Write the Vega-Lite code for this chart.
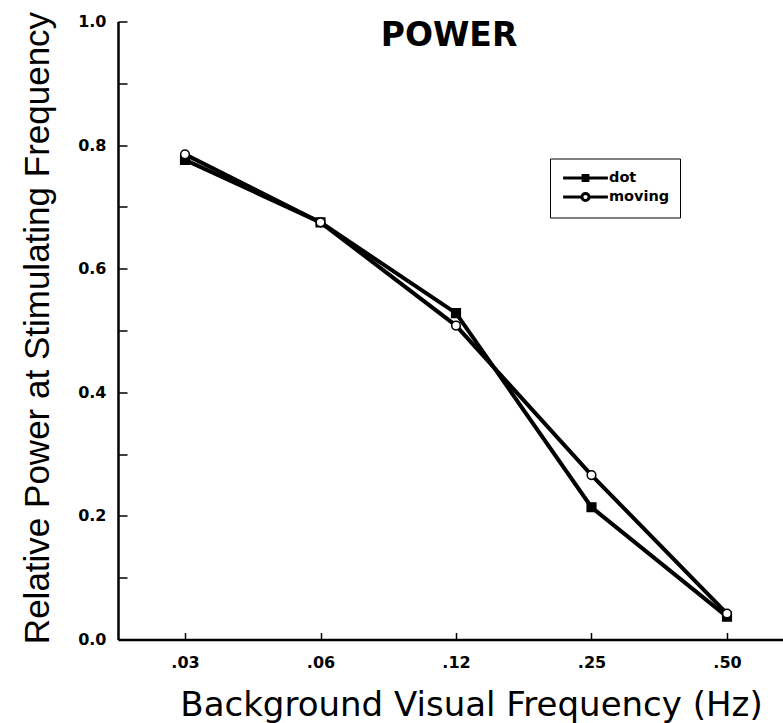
{
  "$schema": "https://vega.github.io/schema/vega-lite/v6.json",
  "autosize": "none",
  "padding": {"left": 118, "top": 21.5, "right": 0, "bottom": 83},
  "width": 676,
  "height": 618,
  "background": "white",
  "title": {
    "text": "POWER",
    "font": "DejaVu Sans",
    "fontSize": 33,
    "fontWeight": "bold",
    "color": "black",
    "anchor": "middle",
    "orient": "top",
    "offset": -42,
    "dx": -7
  },
  "data": {
    "values": [
      {"freq": ".03", "series": "dot", "power": 0.776},
      {"freq": ".06", "series": "dot", "power": 0.675},
      {"freq": ".12", "series": "dot", "power": 0.528},
      {"freq": ".25", "series": "dot", "power": 0.214},
      {"freq": ".50", "series": "dot", "power": 0.037},
      {"freq": ".03", "series": "moving", "power": 0.785},
      {"freq": ".06", "series": "moving", "power": 0.675},
      {"freq": ".12", "series": "moving", "power": 0.508},
      {"freq": ".25", "series": "moving", "power": 0.266},
      {"freq": ".50", "series": "moving", "power": 0.042}
    ]
  },
  "encoding": {
    "x": {
      "field": "freq",
      "type": "ordinal",
      "sort": [".03", ".06", ".12", ".25", ".50"],
      "scale": {"type": "point", "padding": 0.4945},
      "axis": {
        "title": "Background Visual Frequency (Hz)",
        "titleFont": "DejaVu Sans",
        "titleFontSize": 34,
        "titleFontWeight": "normal",
        "titleColor": "black",
        "titleX": 353,
        "titleY": 76,
        "titleBaseline": "alphabetic",
        "titleAlign": "center",
        "labelAngle": 0,
        "labelFont": "DejaVu Sans",
        "labelFontSize": 16,
        "labelFontWeight": "bold",
        "labelColor": "black",
        "labelPadding": 22,
        "tickSize": -7,
        "tickWidth": 1.5,
        "tickColor": "black",
        "domainColor": "black",
        "domainWidth": 2.5,
        "grid": false
      }
    },
    "y": {
      "field": "power",
      "type": "quantitative",
      "scale": {"domain": [0, 1], "nice": false, "zero": true},
      "axis": {
        "title": "Relative Power at Stimulating Frequency",
        "titleFont": "Liberation Sans",
        "titleFontSize": 35,
        "titleFontWeight": "normal",
        "titleColor": "black",
        "titleX": -81,
        "titleY": 306,
        "titleBaseline": "middle",
        "titleAlign": "center",
        "titleAngle": -90,
        "values": [0, 0.1, 0.2, 0.3, 0.4, 0.5, 0.6, 0.7, 0.8, 0.9, 1.0],
        "labelExpr": "round(datum.value * 10) % 2 == 0 ? format(datum.value, '.1f') : ''",
        "labelFont": "DejaVu Sans",
        "labelFontSize": 16,
        "labelFontWeight": "bold",
        "labelColor": "black",
        "labelPadding": 21,
        "tickSize": -9,
        "tickWidth": 1.5,
        "tickColor": "black",
        "domainColor": "black",
        "domainWidth": 2.5,
        "grid": false
      }
    }
  },
  "layer": [
    {
      "mark": {"type": "line", "color": "black", "strokeWidth": 4},
      "encoding": {"detail": {"field": "series"}}
    },
    {
      "mark": {"type": "point", "filled": false, "stroke": "black", "strokeWidth": 1.5, "size": 75, "opacity": 1},
      "encoding": {
        "shape": {
          "field": "series",
          "type": "nominal",
          "scale": {"domain": ["dot", "moving"], "range": ["square", "circle"]},
          "legend": null
        },
        "fill": {
          "field": "series",
          "type": "nominal",
          "scale": {"domain": ["dot", "moving"], "range": ["black", "white"]},
          "legend": null
        }
      }
    },
    {
      "mark": {"type": "point", "filled": false, "stroke": "black", "size": 256, "opacity": 0},
      "encoding": {
        "shape": {
          "field": "series",
          "type": "nominal",
          "scale": {
            "domain": ["dot", "moving"],
            "range": [
              "M-0.8,0H4.8M1.7,-0.3H2.3V0.3H1.7Z",
              "M-0.8,0H1.55M2.45,0H4.8M1.55,0A0.45,0.45 0 1,1 2.45,0A0.45,0.45 0 1,1 1.55,0Z"
            ]
          },
          "legend": {
            "title": null,
            "orient": "none",
            "legendX": 432,
            "legendY": 137,
            "padding": 10,
            "strokeColor": "black",
            "fillColor": "white",
            "symbolSize": 256,
            "symbolStrokeWidth": 3,
            "symbolStrokeColor": "black",
            "symbolFillColor": "white",
            "labelFont": "DejaVu Sans",
            "labelFontSize": 14.5,
            "labelFontWeight": "bold",
            "labelColor": "black",
            "labelOffset": 30,
            "rowPadding": 0
          }
        }
      }
    }
  ],
  "resolve": {"scale": {"shape": "independent", "fill": "independent"}},
  "config": {"view": {"stroke": null}}
}
